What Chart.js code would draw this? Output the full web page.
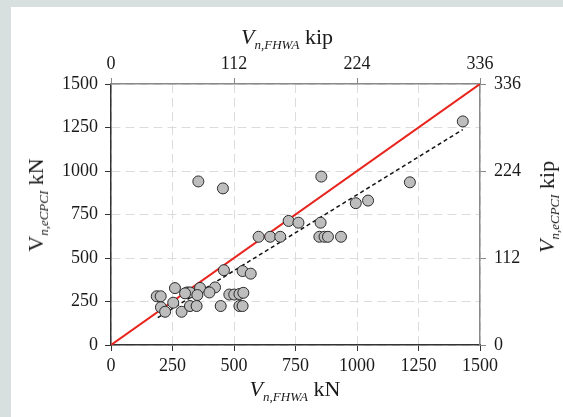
<!DOCTYPE html>
<html>
<head>
<meta charset="utf-8">
<script src="https://cdn.jsdelivr.net/npm/chart.js@4.4.1/dist/chart.umd.min.js"></script>
<style>
  html, body { margin: 0; padding: 0; }
  body { width: 563px; height: 417px; background: #d7dfdf; position: relative; overflow: hidden; font-family: "Liberation Serif", serif; }
  #panel { position: absolute; left: 11px; top: 7px; width: 552px; height: 410px; background: #fff; }
  #grafico { position: absolute; left: 0; top: 0; }
  .ttl { position: absolute; font-size: 22px; color: #1a1a1a; white-space: nowrap; line-height: 1; transform: translate(-50%, -50%); }
  .ttl i { font-style: italic; }
  .ttl sub { font-size: 13px; font-style: italic; vertical-align: baseline; position: relative; top: 5px; }
  .rot { transform: translate(-50%, -50%) rotate(-90deg); }
</style>
</head>
<body>
<div id="panel">
  <canvas id="grafico" width="552" height="410"></canvas>
  <div class="ttl" style="left:276px; top:30px;"><i>V</i><sub>n,FHWA</sub> kip</div>
  <div class="ttl" style="left:284px; top:382px;"><i>V</i><sub>n,FHWA</sub> kN</div>
  <div class="ttl rot" style="left:25px; top:198px;">V<sub>n,eCPCI</sub> kN</div>
  <div class="ttl rot" style="left:536px; top:200px;"><i>V</i><sub>n,eCPCI</sub> kip</div>
</div>
<script>
// dados (kN)
const vFHWA  = [1430, 1215, 855, 1045, 995, 355, 455, 722, 762, 852, 847, 868, 882, 935, 600, 647, 688,
                459, 535, 568, 186, 202, 260, 310, 321, 362, 423, 400, 351, 301, 481, 501, 522, 538,
                253, 203, 220, 287, 321, 348, 446, 522, 535];
const vECPCI = [1285, 935, 968, 830, 815, 940, 900, 713, 703, 703, 622, 622, 622, 622, 622, 622, 622,
                430, 425, 410, 280, 280, 327, 302, 302, 328, 331, 302, 287, 297, 290, 290, 293, 300,
                243, 217, 191, 191, 224, 224, 224, 224, 224];

// linha 1:1 e linha de tendência
const linhaX = [0, 1500];
const linhaY = [0, 1500];
const tendX = [190, 1430];
const tendY = [157, 1238];

// ticks
const ticksKN  = [0, 250, 500, 750, 1000, 1250, 1500];
const ticksKip = [0, 112, 224, 336];

const pontos = vFHWA.map((x, i) => ({ x: x, y: vECPCI[i] }));
const linha = linhaX.map((x, i) => ({ x: x, y: linhaY[i] }));
const tend = tendX.map((x, i) => ({ x: x, y: tendY[i] }));

const fonteTicks = { family: 'Liberation Serif', size: 18 };
const semVirgula = v => String(v);

function fixarTicks(lista) {
    return function (scale) { scale.ticks = lista.map(v => ({ value: v })); };
}

const ctx = document.getElementById('grafico').getContext('2d');

new Chart(ctx, {
    type: 'scatter',
    data: {
        datasets: [
            { data: pontos, order: 0, pointRadius: 5.5, pointHoverRadius: 5.5,
              backgroundColor: '#bdbdbd', borderColor: '#2a2a2a', borderWidth: 1 },
            { data: linha, order: 1, showLine: true, pointRadius: 0,
              borderColor: '#e8241c', borderWidth: 2 },
            { data: tend, order: 2, showLine: true, pointRadius: 0,
              borderColor: '#111', borderWidth: 1.5, borderDash: [4, 3] }
        ]
    },
    options: {
        responsive: false,
        animation: false,
        layout: { padding: 0 },
        plugins: { legend: { display: false }, tooltip: { enabled: false } },
        scales: {
            x: {
                position: 'bottom', min: 0, max: 1500,
                afterBuildTicks: fixarTicks(ticksKN),
                afterFit: s => { s.height = 72; },
                ticks: { color: '#1a1a1a', font: fonteTicks, padding: 4, maxRotation: 0, callback: semVirgula },
                grid: { color: '#dcdcdc', lineWidth: 1, tickLength: 6, tickColor: '#333' },
                border: { color: '#333', width: 1.5, dash: [9, 5] }
            },
            y: {
                position: 'left', min: 0, max: 1500,
                afterBuildTicks: fixarTicks(ticksKN),
                afterFit: s => { s.width = 100; },
                ticks: { color: '#1a1a1a', font: fonteTicks, padding: 7, callback: semVirgula },
                grid: { color: '#dcdcdc', lineWidth: 1, tickLength: 6, tickColor: '#333' },
                border: { color: '#333', width: 1.5, dash: [9, 5] }
            },
            x2: {
                position: 'top', min: 0, max: 336,
                afterBuildTicks: fixarTicks(ticksKip),
                afterFit: s => { s.height = 77; },
                ticks: { color: '#1a1a1a', font: fonteTicks, padding: 3, maxRotation: 0, callback: semVirgula },
                grid: { drawOnChartArea: false, tickLength: 6, tickColor: '#888' },
                border: { color: '#8a8a8a', width: 1.5 }
            },
            y2: {
                position: 'right', min: 0, max: 336,
                afterBuildTicks: fixarTicks(ticksKip),
                afterFit: s => { s.width = 83; },
                ticks: { color: '#1a1a1a', font: fonteTicks, padding: 8, callback: semVirgula },
                grid: { drawOnChartArea: false, tickLength: 6, tickColor: '#888' },
                border: { color: '#8a8a8a', width: 1.5 }
            }
        }
    }
});
</script>
</body>
</html>
